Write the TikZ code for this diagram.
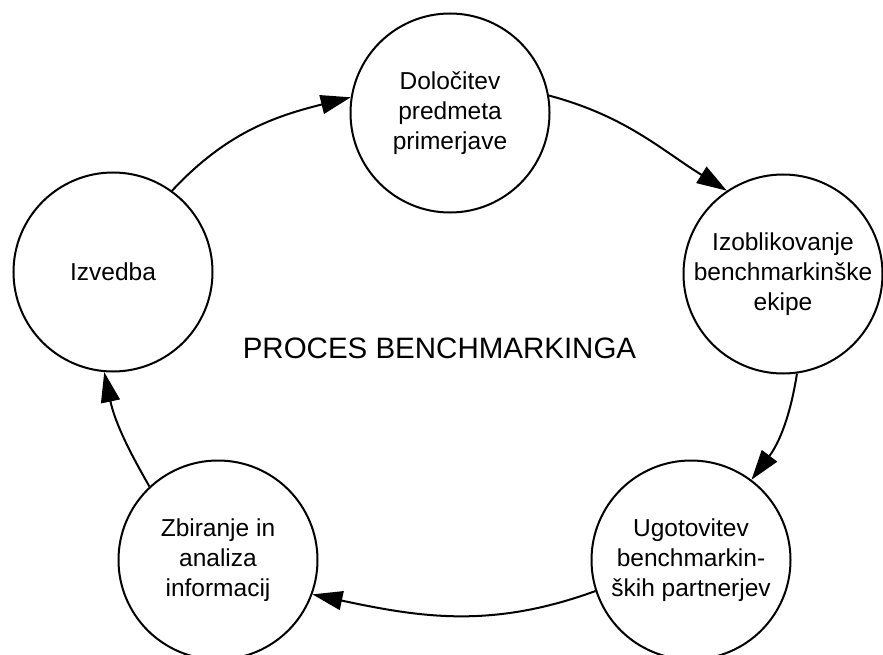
\documentclass[tikz,border=0pt]{standalone}
\usepackage{fontspec}
\setmainfont{Liberation Sans}
\usetikzlibrary{arrows.meta}

\tikzset{
  stage/.style={circle, draw=black, line width=2pt, minimum size=199pt,
    inner sep=0pt, align=center, font=\fontsize{24.5}{30}\selectfont},
  flow/.style={line width=2pt, -{Triangle[length=30pt, width=19pt]}},
  title/.style={font=\fontsize{29.5}{34}\selectfont}
}

\begin{document}
\begin{tikzpicture}[x=1pt, y=-1pt]
  \useasboundingbox (0,0) rectangle (883,655);

  % the five stages of the cycle
  \node[stage] (subject)  at (450,113) {Določitev\\predmeta\\primerjave};
  \node[stage] (team)     at (783,274) {Izoblikovanje\\benchmarkinške\\ekipe};
  \node[stage] (partners) at (691,560) {Ugotovitev\\benchmarkin-\\ških partnerjev};
  \node[stage] (analysis) at (218,560) {Zbiranje in\\analiza\\informacij};
  \node[stage] (action)   at (113,272) {Izvedba};

  % caption in the middle of the cycle
  \node[title, anchor=base] (caption) at (439.5,358) {PROCES BENCHMARKINGA};

  % arrows running clockwise round the cycle
  \draw[flow] (subject.10)    to[out=-15,  in=148] (team.124);
  \draw[flow] (team.-82)      to[out=-99,  in=53]  (partners.53);
  \draw[flow] (partners.-162) to[out=-160, in=-12] (analysis.-20);
  \draw[flow] (analysis.133)  to[out=120,  in=-78] (action.-95);
  \draw[flow] (action.54)     to[out=47,   in=-166] (subject.171);
\end{tikzpicture}
\end{document}
